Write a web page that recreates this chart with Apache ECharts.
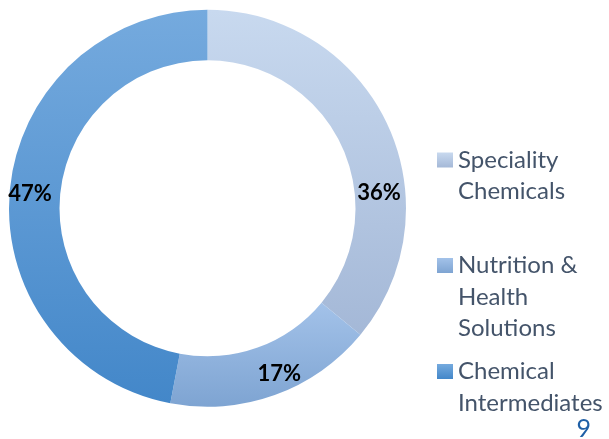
<!DOCTYPE html>
<html>
<head>
<meta charset="utf-8">
<script src="https://cdn.jsdelivr.net/npm/echarts@6/dist/echarts.min.js"></script>
<style>
html,body{margin:0;padding:0;background:#fff;}
#chart{width:609px;height:439px;}
</style>
</head>
<body>
<div id="chart"></div>
<script>
// ---- data ----
const categories = ['Speciality Chemicals', 'Nutrition & Health Solutions', 'Chemical Intermediates'];
const legendLines = [['Speciality', 'Chemicals'], ['Nutrition &', 'Health', 'Solutions'], ['Chemical', 'Intermediates']];
const shares = [36, 17, 47];
const pageNumber = '9';

// ---- styles / layout ----
const gradients = [
  ['#C8D9EF', '#A4B8D7'],
  ['#A3C2E9', '#7EA4D2'],
  ['#75AADE', '#4387C9']
];
const labelOffsets = [[12, 60], [12, 0], [-2, 2]];
const legendIconCenters = [160, 265.5, 371.5];
const LH = 31.6;
const FONT = 'Lato, "Noto Sans", sans-serif';

function grad(c) {
  return new echarts.graphic.LinearGradient(0, 0, 0, 1, [
    { offset: 0, color: c[0] },
    { offset: 1, color: c[1] }
  ]);
}

const pieData = categories.map((name, i) => ({
  name: name,
  value: shares[i],
  itemStyle: { color: grad(gradients[i]) },
  label: { offset: labelOffsets[i] }
}));

// Leading blank lines keep the icon level with the first text line
const legends = categories.map((name, i) => {
  const n = legendLines[i].length;
  const pad = '\n'.repeat(n - 1);
  return {
    orient: 'vertical',
    left: 437,
    top: legendIconCenters[i] - (2 * n - 1) * LH / 2,
    padding: 0,
    itemWidth: 16,
    itemHeight: 15,
    icon: 'rect',
    selectedMode: false,
    formatter: () => pad + legendLines[i].join('\n'),
    textStyle: { fontFamily: FONT, fontSize: 24, color: '#44546A', lineHeight: LH },
    data: [name]
  };
});

const chart = echarts.init(document.getElementById('chart'), null, { renderer: 'canvas' });
chart.setOption({
  animation: false,
  backgroundColor: '#ffffff',
  legend: legends,
  series: [{
    type: 'pie',
    center: [207.5, 208.3],
    radius: [148, 198.5],
    startAngle: 90,
    clockwise: true,
    avoidLabelOverlap: false,
    itemStyle: { borderWidth: 0 },
    label: {
      show: true,
      position: 'inside',
      formatter: '{c}%',
      fontFamily: FONT,
      fontWeight: 'bold',
      fontSize: 22,
      color: '#000000'
    },
    labelLine: { show: false },
    emphasis: { disabled: true },
    data: pieData
  }],
  graphic: [{
    type: 'text',
    right: 18,
    top: 416,
    style: { text: pageNumber, fontFamily: FONT, fontSize: 25, fill: '#1F5FA6' }
  }]
});
</script>
</body>
</html>
